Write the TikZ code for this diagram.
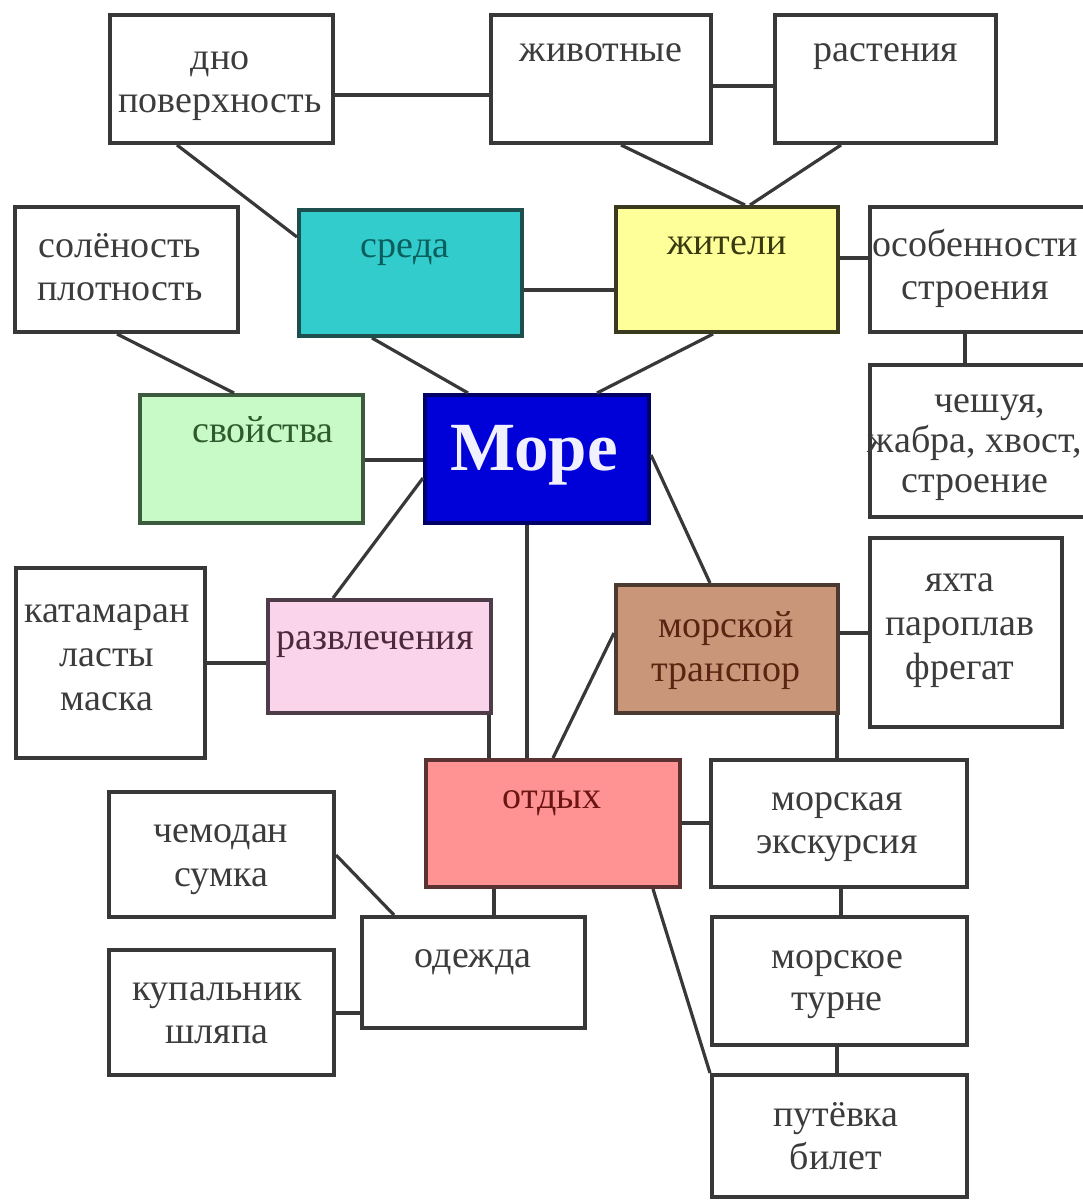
\documentclass[tikz,border=0pt]{standalone}
\usepackage{fontspec}
\setmainfont{Liberation Serif}
\definecolor{ln}{HTML}{383838}
\definecolor{wtext}{HTML}{3C3C3C}
\definecolor{tealf}{HTML}{33CCCC}
\definecolor{teald}{HTML}{1E4F4F}
\definecolor{tealt}{HTML}{0A5E5E}
\definecolor{yelf}{HTML}{FFFF99}
\definecolor{yeld}{HTML}{3A3A1E}
\definecolor{yelt}{HTML}{3A3A10}
\definecolor{grnf}{HTML}{C8FAC8}
\definecolor{grnd}{HTML}{3C5A3C}
\definecolor{grnt}{HTML}{2E5A2E}
\definecolor{bluef}{HTML}{0000D8}
\definecolor{blued}{HTML}{000066}
\definecolor{moret}{HTML}{F0F0FF}
\definecolor{pinkf}{HTML}{FAD4EA}
\definecolor{pinkd}{HTML}{4E3C48}
\definecolor{pinkt}{HTML}{4A2A3C}
\definecolor{brownf}{HTML}{C9967A}
\definecolor{brownd}{HTML}{4A3A30}
\definecolor{brownt}{HTML}{5A2410}
\definecolor{salmf}{HTML}{FF9292}
\definecolor{salmd}{HTML}{5A3232}
\definecolor{salmt}{HTML}{6A1414}
\tikzset{
  box/.style={rectangle, inner sep=0pt, line width=4pt},
  wbox/.style={box, draw=ln, fill=white},
  conn/.style={draw=ln, line width=3.2pt},
  txt/.style={inner sep=0pt, anchor=base, align=center, text=wtext,
    font=\fontsize{38}{43}\selectfont},
}
\begin{document}
\begin{tikzpicture}[x=1pt,y=-1pt]
\useasboundingbox[fill=white] (0,0) rectangle (1083,1200);

% boxes
\node[wbox, minimum width=223pt, minimum height=128pt] (dno) at (221.5,79) {};
\node[wbox, minimum width=220pt, minimum height=128pt] (zhiv) at (601,79) {};
\node[wbox, minimum width=221pt, minimum height=128pt] (rast) at (885.5,79) {};
\node[box, draw=teald, fill=tealf, minimum width=223pt, minimum height=126pt] (sreda) at (410.5,273) {};
\node[box, draw=yeld, fill=yelf, minimum width=222pt, minimum height=125pt] (zhit) at (727,269.5) {};
\node[wbox, minimum width=230pt, minimum height=125pt] (osob) at (985,269.5) {};
\node[wbox, minimum width=223pt, minimum height=125pt] (sol) at (126.5,269.5) {};
\node[box, draw=grnd, fill=grnf, minimum width=223pt, minimum height=128pt] (svoj) at (251.5,459) {};
\node[box, draw=blued, fill=bluef, minimum width=224pt, minimum height=128pt] (more) at (537,459) {};
\node[wbox, minimum width=230pt, minimum height=152pt] (chesh) at (985,441) {};
\node[wbox, minimum width=189pt, minimum height=190pt] (kat) at (110.5,663) {};
\node[box, draw=pinkd, fill=pinkf, minimum width=223pt, minimum height=113pt] (razvl) at (379.5,656.5) {};
\node[box, draw=brownd, fill=brownf, minimum width=222pt, minimum height=128pt] (transp) at (727,649) {};
\node[wbox, minimum width=192pt, minimum height=189pt] (yahta) at (966,632.5) {};
\node[box, draw=salmd, fill=salmf, minimum width=254pt, minimum height=127pt] (otdyh) at (553,823.5) {};
\node[wbox, minimum width=256pt, minimum height=127pt] (eksk) at (839,823.5) {};
\node[wbox, minimum width=225pt, minimum height=125pt] (chem) at (221.5,854.5) {};
\node[wbox, minimum width=223pt, minimum height=111pt] (odezh) at (473.5,972.5) {};
\node[wbox, minimum width=225pt, minimum height=125pt] (kupal) at (221.5,1012.5) {};
\node[wbox, minimum width=255pt, minimum height=128pt] (turne) at (839.5,981) {};
\node[wbox, minimum width=255pt, minimum height=122pt] (putev) at (839.5,1136) {};

% texts (base anchor = baseline of the last line)
\node[txt] (dnoT) at (220,112) {дно\\поверхность};
\node[txt] (zhivT) at (601,61) {животные};
\node[txt] (rastT) at (886,61) {растения};
\node[txt, text=tealt] (sredaT) at (405,257) {среда};
\node[txt, text=yelt] (zhitT) at (727,254) {жители};
\node[txt] (osobT) at (975,299) {особенности\\строения};
\node[txt] (solT) at (120,300) {солёность\\плотность};
\node[txt, text=grnt] (svojT) at (263,442) {свойства};
\node[inner sep=0pt, anchor=base, text=moret, font=\fontsize{69}{75}\selectfont\bfseries] (moreT) at (534,470) {Море};
\node[txt, font=\fontsize{38}{40}\selectfont] (cheshT) at (975,492) {\hspace*{30pt}чешуя,\\жабра, хвост,\\строение};
\node[txt, font=\fontsize{38}{44}\selectfont] (katT) at (107,710) {катамаран\\ласты\\маска};
\node[txt, text=pinkt] (razvlT) at (375,649) {развлечения};
\node[txt, text=brownt, font=\fontsize{38}{44}\selectfont] (transpT) at (726,681) {морской\\транспор};
\node[txt, font=\fontsize{38}{44}\selectfont] (yahtaT) at (960,679) {яхта\\пароплав\\фрегат};
\node[txt, text=salmt] (otdyhT) at (552,808) {отдых};
\node[txt] (ekskT) at (837,853) {морская\\экскурсия};
\node[txt, font=\fontsize{38}{44}\selectfont] (chemT) at (221,886) {чемодан\\сумка};
\node[txt] (odezhT) at (473,967) {одежда};
\node[txt] (kupalT) at (217,1043) {купальник\\шляпа};
\node[txt, font=\fontsize{38}{42}\selectfont] (turneT) at (837,1010) {морское\\турне};
\node[txt] (putevT) at (836,1169) {путёвка\\билет};

% connectors
\draw[conn] (dno.east |- 0,95) -- (zhiv.west |- 0,95);
\draw[conn] (zhiv.east |- 0,86) -- (rast.west |- 0,86);
\draw[conn] (dno.south -| 177,0) -- (sreda.west |- 0,237);
\draw[conn] (zhiv.south -| 621,0) -- (zhit.north -| 745,0);
\draw[conn] (rast.south -| 841,0) -- (zhit.north -| 750,0);
\draw[conn] (sreda.east |- 0,290) -- (zhit.west |- 0,290);
\draw[conn] (zhit.east |- 0,258) -- (osob.west |- 0,258);
\draw[conn] (sol.south -| 117,0) -- (svoj.north -| 234,0);
\draw[conn] (sreda.south -| 372,0) -- (more.north -| 468,0);
\draw[conn] (zhit.south -| 713,0) -- (more.north -| 597,0);
\draw[conn] (svoj.east |- 0,460) -- (more.west |- 0,460);
\draw[conn] (osob.south -| 965,0) -- (chesh.north -| 965,0);
\draw[conn] (more.west |- 0,478) -- (razvl.north -| 333,0);
\draw[conn] (more.south -| 527,0) -- (otdyh.north -| 527,0);
\draw[conn] (more.east |- 0,455) -- (transp.north -| 710,0);
\draw[conn] (kat.east |- 0,663) -- (razvl.west |- 0,663);
\draw[conn] (razvl.south -| 489,0) -- (otdyh.north -| 489,0);
\draw[conn] (transp.west |- 0,633) -- (otdyh.north -| 553,0);
\draw[conn] (transp.east |- 0,633) -- (yahta.west |- 0,633);
\draw[conn] (transp.south -| 837,0) -- (eksk.north -| 837,0);
\draw[conn] (otdyh.east |- 0,823) -- (eksk.west |- 0,823);
\draw[conn] (otdyh.south -| 494,0) -- (odezh.north -| 494,0);
\draw[conn] (chem.east |- 0,855) -- (odezh.north -| 394,0);
\draw[conn] (kupal.east |- 0,1013) -- (odezh.west |- 0,1013);
\draw[conn] (eksk.south -| 841,0) -- (turne.north -| 841,0);
\draw[conn] (turne.south -| 837,0) -- (putev.north -| 837,0);
\draw[conn] (otdyh.south -| 653,0) -- (putev.north west);
\end{tikzpicture}
\end{document}
